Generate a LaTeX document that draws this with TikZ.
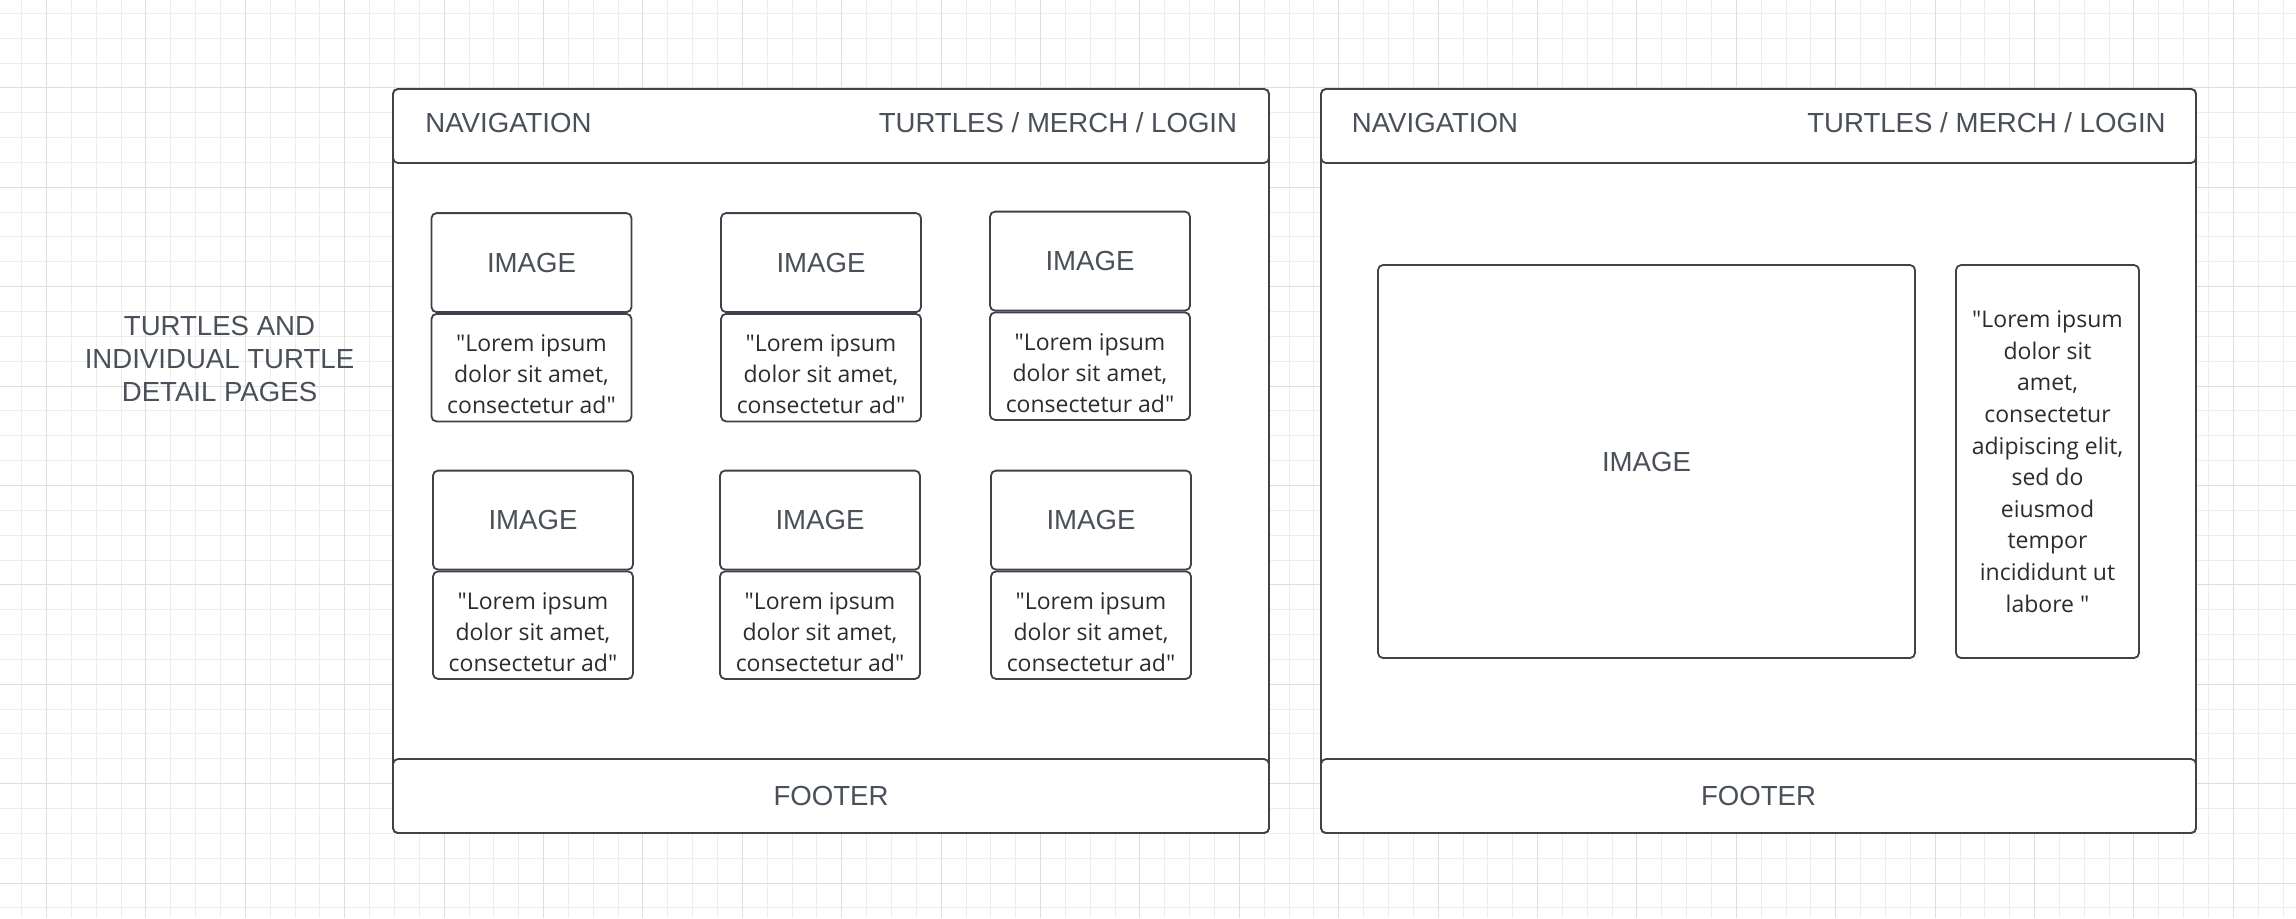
\documentclass[tikz,border=0pt]{standalone}
\usepackage{fontspec}
\setmainfont{Liberation Sans}
\newfontfamily\loremfont{Open Sans}
\usetikzlibrary{positioning}
\definecolor{wire}{RGB}{62,66,74}
\definecolor{labelgrey}{RGB}{74,80,89}
\definecolor{loremgrey}{RGB}{44,44,44}
\definecolor{gridminor}{RGB}{237,237,237}
\definecolor{gridmajor}{RGB}{222,222,222}

\begin{document}
\begin{tikzpicture}[x=0.5pt,y=-0.5pt,
  box/.style={draw=wire,line width=0.9pt,rounded corners=2.5pt,fill=white,inner sep=0pt,
    text=labelgrey,font=\fontsize{13.8}{16.5}\selectfont},
  label/.style={text=labelgrey,font=\fontsize{13.8}{16.5}\selectfont,inner sep=0pt},
  lorem/.style={text=loremgrey,font=\loremfont\fontsize{11.5}{15.5}\selectfont,align=center,inner sep=0pt}]
  \useasboundingbox (0,0) rectangle (2296,918);
  \fill[white] (0,0) rectangle (2296,918);
  \foreach \k [evaluate=\k as \gx using 21.7+24.85*\k] in {0,...,91}
    \draw[gridminor,line width=0.5pt] (\gx,0) -- (\gx,918);
  \foreach \k [evaluate=\k as \gy using 13.3+24.85*\k] in {0,...,36}
    \draw[gridminor,line width=0.5pt] (0,\gy) -- (2296,\gy);
  \foreach \k [evaluate=\k as \gx using 46.55+99.4*\k] in {0,...,22}
    \draw[gridmajor,line width=0.5pt] (\gx,0) -- (\gx,918);
  \foreach \k [evaluate=\k as \gy using 87.85+99.4*\k] in {0,...,8}
    \draw[gridmajor,line width=0.5pt] (0,\gy) -- (2296,\gy);

  \node[label,align=center] (title) at (219.5,359) {TURTLES AND\\INDIVIDUAL TURTLE\\DETAIL PAGES};

  \node[box,minimum width=438pt,minimum height=372pt] (listpage) at (831,461) {};
  \node[box,minimum width=438pt,minimum height=37pt,anchor=north] (listnav) at (listpage.north) {};
  \node[box,minimum width=438pt,minimum height=37pt,anchor=south] (listfoot) at (listpage.south) {FOOTER};
  \node[label,anchor=base west] (listnavl) at (425,132.3) {NAVIGATION};
  \node[label,anchor=base east] (listnavr) at (1237.5,132.3) {TURTLES / MERCH / LOGIN};
  \foreach \cx/\cy [count=\n] in {531.5/313, 821/313, 1090/311.5, 533/570.5, 820/570.5, 1091/570.5}
  {
    \node[box,minimum width=100pt,minimum height=53.75pt,anchor=north] (card\n) at (\cx,\cy) {};
    \node[lorem] (cardtext\n) at ([yshift=-3.5pt]card\n.center) {"Lorem ipsum\\dolor sit amet,\\consectetur ad"};
    \node[box,minimum width=100pt,minimum height=49.5pt,anchor=south] (cardimg\n) at (card\n.north) {IMAGE};
  }

  \node[box,minimum width=437.5pt,minimum height=372pt] (detailpage) at (1758.5,461) {};
  \node[box,minimum width=437.5pt,minimum height=37pt,anchor=north] (detailnav) at (detailpage.north) {};
  \node[box,minimum width=437.5pt,minimum height=37pt,anchor=south] (detailfoot) at (detailpage.south) {FOOTER};
  \node[label,anchor=base west] (detailnavl) at (1351.5,132.3) {NAVIGATION};
  \node[label,anchor=base east] (detailnavr) at (2166,132.3) {TURTLES / MERCH / LOGIN};
  \node[box,minimum width=268.5pt,minimum height=196.5pt] (bigimg) at (1646.5,461.5) {IMAGE};
  \node[box,lorem,minimum width=91.5pt,minimum height=196.5pt,font=\loremfont\fontsize{11.5}{15.8}\selectfont]
    (bigtxt) at (2047.5,461.5)
    {"Lorem ipsum\\dolor sit\\amet,\\consectetur\\adipiscing elit,\\sed do\\eiusmod\\tempor\\incididunt ut\\labore "};
\end{tikzpicture}
\end{document}
